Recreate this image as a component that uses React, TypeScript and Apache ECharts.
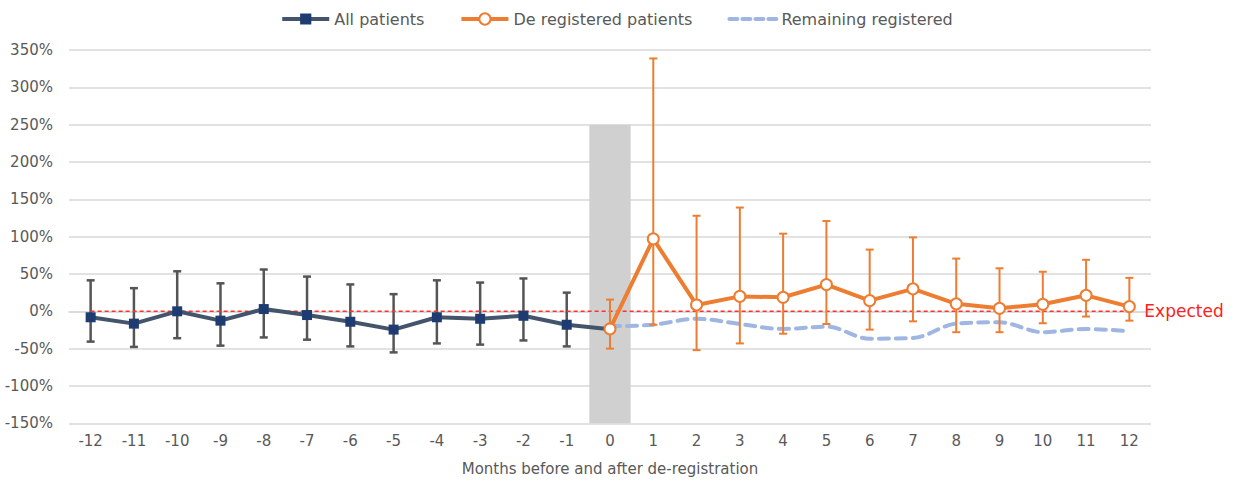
import React, { useEffect, useRef } from "react";
import * as echarts from "echarts";

const months = ["-12","-11","-10","-9","-8","-7","-6","-5","-4","-3","-2","-1","0","1","2","3","4","5","6","7","8","9","10","11","12"];
const yTicks = { min: -150, max: 350, interval: 50 };

// All patients (-12 .. 0)
const allPatients = [-8, -16.5, 0, -12.5, 3, -5, -14, -24.5, -8, -10, -6, -18, -24];
const allUpper = [41.5, 31, 53.6, 37.5, 56, 46.5, 36, 23, 41.5, 38.5, 44, 25];
const allLower = [-40.6, -47.7, -36, -46, -35, -38, -47, -55, -43, -44.6, -39, -47];

// De registered patients (0 .. 12)
const deregistered = [-23.6, 97, 8.5, 20, 18.8, 35.8, 14.3, 30, 10, 4, 9.4, 21.4, 6.3];
const deregUpper = [15.7, 338.7, 128, 139, 104, 121, 82.7, 99, 70.6, 57.6, 53, 69, 44.8];
const deregLower = [-50, -18, -52, -43, -30, -17, -24.5, -13.4, -28, -28, -16, -7, -12.5];

// Remaining registered (0 .. 12)
const remaining = [-20, -18, -10, -17, -23.6, -20.5, -36.6, -35.7, -16.5, -14.7, -28, -23.6, -26.8];

const shade = { month: "0", low: -150, high: 250 };
const expectedValue = 0;

const TEXT = "#595959";
const FONT = "DejaVu Sans";

export default function App() {
  const ref = useRef<HTMLDivElement>(null);
  useEffect(() => {
    if (!ref.current) return;
    const chart = echarts.init(ref.current, undefined, { renderer: "svg" });
    const zeroIdx = months.indexOf("0");
    const pad = (arr: number[], start: number) =>
      months.map((_, i) => (i >= start && i - start < arr.length ? arr[i - start] : null));

    const errRender = (color: string, lw: number) => (params: any, api: any) => {
      const x = api.value(0);
      const lo = api.coord([x, api.value(1)]);
      const hi = api.coord([x, api.value(2)]);
      const hw = 4;
      const st = { stroke: color, lineWidth: lw };
      return {
        type: "group",
        children: [
          { type: "line", shape: { x1: lo[0], y1: lo[1], x2: hi[0], y2: hi[1] }, style: st },
          { type: "line", shape: { x1: hi[0] - hw, y1: hi[1], x2: hi[0] + hw, y2: hi[1] }, style: st },
          { type: "line", shape: { x1: lo[0] - hw, y1: lo[1], x2: lo[0] + hw, y2: lo[1] }, style: st },
        ],
      };
    };

    const allData = pad(allPatients, 0).map((v, i) =>
      v === null ? null : i === zeroIdx ? { value: v, symbol: "none" } : v
    );

    chart.setOption({
      animation: false,
      textStyle: { fontFamily: FONT },
      legend: {
        top: 6,
        left: "center",
        itemWidth: 47,
        itemHeight: 14,
        itemGap: 35,
        textStyle: { fontSize: 16, color: TEXT, fontFamily: FONT },
        data: [
          { name: "All patients", lineStyle: { width: 4 } },
          { name: "De registered patients", lineStyle: { width: 4 } },
          { name: "Remaining registered", itemStyle: { opacity: 0 }, lineStyle: { width: 4, type: [8, 5] } },
        ],
      },
      grid: { left: 69, right: 82, top: 50, bottom: 59.7, containLabel: false },
      xAxis: {
        type: "category",
        data: months,
        boundaryGap: true,
        axisLine: { lineStyle: { color: "#D9D9D9", width: 1.5 } },
        axisTick: { show: false },
        axisLabel: { color: TEXT, fontSize: 15, margin: 10, fontFamily: FONT },
        name: "Months before and after de-registration",
        nameLocation: "middle",
        nameGap: 38,
        nameTextStyle: { color: TEXT, fontSize: 15, fontFamily: FONT },
      },
      yAxis: {
        type: "value",
        min: yTicks.min,
        max: yTicks.max,
        interval: yTicks.interval,
        axisLine: { show: false },
        axisTick: { show: false },
        splitLine: { lineStyle: { color: "#D9D9D9", width: 1.5 } },
        axisLabel: { color: TEXT, fontSize: 15, margin: 16, formatter: (v: number) => `${v}%`, fontFamily: FONT },
      },
      series: [
        {
          type: "custom",
          name: "shade",
          silent: true,
          z: 1,
          data: [[months.indexOf(shade.month), shade.low, shade.high]],
          encode: { x: 0, y: [1, 2] },
          renderItem: (params: any, api: any) => {
            const x = api.value(0);
            const top = api.coord([x, api.value(2)]);
            const bot = api.coord([x, api.value(1)]);
            const w = api.size([1, 0])[0] * 0.955;
            return {
              type: "rect",
              shape: { x: top[0] - w / 2, y: top[1], width: w, height: bot[1] - top[1] },
              style: { fill: "#D0D0D0" },
            };
          },
        },
        {
          type: "custom",
          name: "allErr",
          silent: true,
          z: 2,
          data: allUpper.map((u, i) => [i, allLower[i], u]),
          encode: { x: 0, y: [1, 2] },
          renderItem: errRender("#555555", 2.5),
        },
        {
          type: "line",
          name: "Expected",
          z: 2,
          silent: true,
          data: months.map(() => expectedValue),
          symbol: "none",
          lineStyle: { color: "#FF3030", width: 1.6, type: [4, 3] },
          endLabel: { show: true, formatter: "Expected", color: "#FF2020", fontSize: 17, distance: 15, fontFamily: FONT },
        },
        {
          type: "line",
          name: "All patients",
          z: 3,
          data: allData,
          color: "#1F3C72",
          lineStyle: { color: "#44546A", width: 4 },
          itemStyle: { color: "#1F3C72" },
          symbol: "rect",
          symbolSize: 10,
          showSymbol: true,
        },
        {
          type: "line",
          name: "Remaining registered",
          z: 4,
          data: pad(remaining, zeroIdx),
          smooth: 0.35,
          color: "#9FB6E2",
          lineStyle: { color: "#9FB6E2", width: 4, type: [10, 7], cap: "round" },
          symbol: "none",
        },
        {
          type: "custom",
          name: "deregErr",
          silent: true,
          z: 5,
          data: deregUpper.map((u, i) => [i + zeroIdx, deregLower[i], u]),
          encode: { x: 0, y: [1, 2] },
          renderItem: errRender("#ED7D31", 2),
        },
        {
          type: "line",
          name: "De registered patients",
          z: 6,
          data: pad(deregistered, zeroIdx),
          color: "#ED7D31",
          lineStyle: { color: "#ED7D31", width: 4 },
          itemStyle: { color: "#FFFFFF", borderColor: "#ED7D31", borderWidth: 2 },
          symbol: "circle",
          symbolSize: 11,
          showSymbol: true,
        },
      ],
    });
    return () => chart.dispose();
  }, []);
  return (
    <div
      ref={ref}
      style={{ position: "fixed", left: 0, top: 0, width: 1233, height: 483, background: "#fff" }}
    />
  );
}
